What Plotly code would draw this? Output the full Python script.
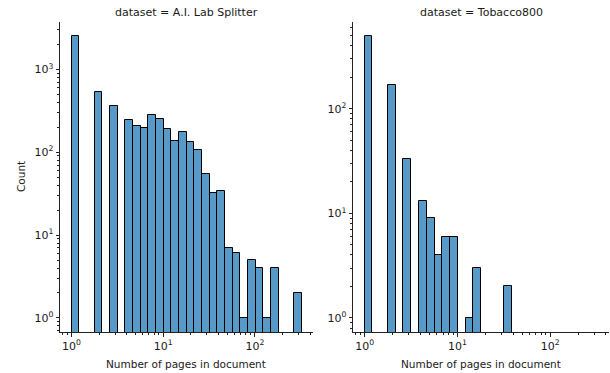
import numpy as np
import plotly.graph_objects as go

# ---- data ----
lab_name = "A.I. Lab Splitter"
lab_max_pages = 323
lab_counts = [2520, 0, 0, 527, 0, 357, 0, 244, 208, 197, 283, 255, 193, 138, 176,
              134, 105, 54, 32, 34, 7, 6, 1, 5, 4, 1, 4, 0, 0, 2]

tob_name = "Tobacco800"
tob_max_pages = 39
tob_counts = [495, 0, 0, 167, 0, 33, 0, 13, 9, 4, 6, 6, 0, 1, 3, 0, 0, 0, 2]

x_tick_vals = [0, 1, 2]
x_tick_text = ["10<sup>0</sup>", "10<sup>1</sup>", "10<sup>2</sup>"]

W, H = 610, 373
BAR_FILL = "rgba(31,119,180,0.75)"
FONT = "DejaVu Sans"
TXT = "#1a1a1a"

panels = [
    (lab_name, lab_max_pages, lab_counts, (60, 313)),
    (tob_name, tob_max_pages, tob_counts, (353, 609)),
]
y_top_px, y_bot_px = 22, 332

# shared x range (log10 space) with matplotlib-like 5% margins
all_max = max(lab_max_pages, tob_max_pages)
lx = np.log10(all_max)
x_range = [-0.05 * lx, lx * 1.05]

x_minor = [np.log10(m * 10 ** d) for d in range(-1, 3) for m in range(2, 10)]

fig = go.Figure()
annotations = []
for i, (name, mx, counts, (px0, px1)) in enumerate(panels):
    counts = np.array(counts, dtype=float)
    n = len(counts)
    edges = np.linspace(0, np.log10(mx), n + 1)
    centers = (edges[:-1] + edges[1:]) / 2
    width = edges[1] - edges[0]
    keep = counts > 0
    xa = "x" if i == 0 else "x2"
    ya = "y" if i == 0 else "y2"
    fig.add_trace(go.Bar(
        x=centers[keep], y=counts[keep], width=width,
        marker=dict(color=BAR_FILL, line=dict(color="#000000", width=1)),
        xaxis=xa, yaxis=ya, showlegend=False, hoverinfo="x+y",
    ))
    ly = np.log10(counts.max())
    y_range = [-0.05 * ly, ly * 1.05]
    ndec = int(np.ceil(y_range[1]))
    y_major = [10 ** d for d in range(0, ndec)]
    y_text = [f"10<sup>{d}</sup>" for d in range(0, ndec)]
    y_minor = [m * 10 ** d for d in range(-1, ndec) for m in range(2, 10)]
    dom_x = [px0 / W, px1 / W]
    dom_y = [1 - y_bot_px / H, 1 - y_top_px / H]
    axis_common = dict(
        showline=True, linecolor="#222", linewidth=1, ticks="outside",
        ticklen=3.5, tickwidth=1, tickcolor="#222", showgrid=False,
        zeroline=False, tickfont=dict(family=FONT, size=11, color=TXT),
    )
    xkey = "xaxis" if i == 0 else "xaxis2"
    ykey = "yaxis" if i == 0 else "yaxis2"
    fig.update_layout({
        xkey: dict(domain=dom_x, range=x_range, anchor=ya,
                   tickmode="array", tickvals=x_tick_vals, ticktext=x_tick_text,
                   minor=dict(tickmode="array", tickvals=x_minor, ticks="outside",
                              ticklen=2, tickwidth=0.8, tickcolor="#222"),
                   **axis_common),
        ykey: dict(domain=dom_y, type="log", range=y_range, anchor=xa,
                   tickmode="array", tickvals=y_major, ticktext=y_text,
                   minor=dict(tickmode="array", tickvals=y_minor, ticks="outside",
                              ticklen=2, tickwidth=0.8, tickcolor="#222"),
                   **axis_common),
    })
    cx = (px0 + px1) / 2 / W
    annotations.append(dict(text=f"dataset = {name}", x=cx, y=1 - 12 / H, xref="paper", yref="paper",
                            showarrow=False, xanchor="center", yanchor="middle",
                            font=dict(family=FONT, size=11, color=TXT)))
    annotations.append(dict(text="Number of pages in document", x=cx, y=1 - 364 / H, xref="paper", yref="paper",
                            showarrow=False, xanchor="center", yanchor="middle",
                            font=dict(family=FONT, size=10.5, color=TXT)))

annotations.append(dict(text="Count", x=21 / W, y=1 - 177 / H, xref="paper", yref="paper",
                        showarrow=False, xanchor="center", yanchor="middle", textangle=-90,
                        font=dict(family=FONT, size=10.5, color=TXT)))

fig.update_layout(
    width=W, height=H, margin=dict(l=0, r=0, t=0, b=0),
    paper_bgcolor="white", plot_bgcolor="white", bargap=0,
    annotations=annotations, font=dict(family=FONT),
)

fig.write_html("out.html")
